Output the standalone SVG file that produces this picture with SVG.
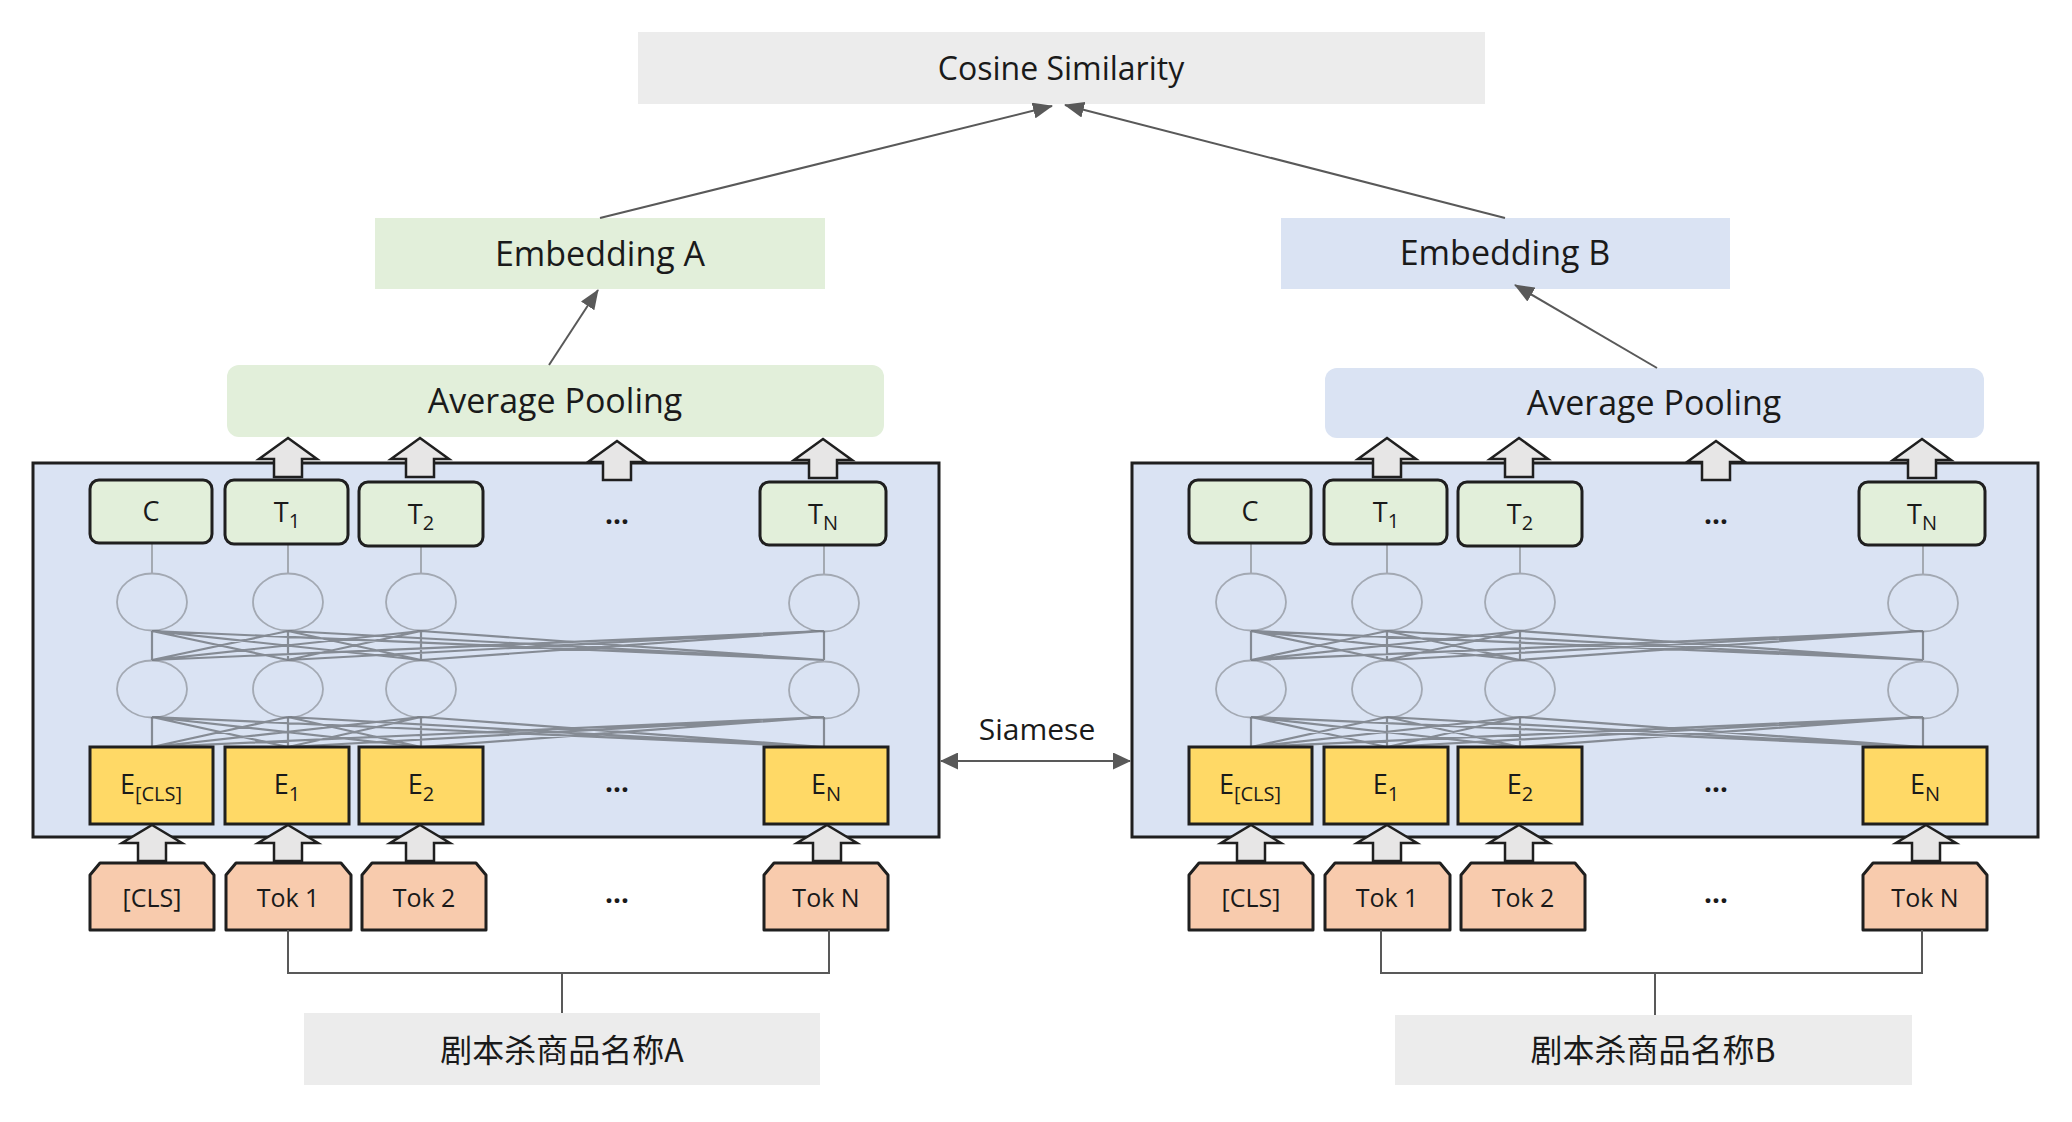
<svg xmlns="http://www.w3.org/2000/svg" xmlns:xlink="http://www.w3.org/1999/xlink" width="2072" height="1122" viewBox="0 0 2072 1122">
<style>
  text { font-family: "Open Sans", "Noto Sans CJK SC", sans-serif; fill: #1a1a1a; text-anchor: middle; }
  .cjk { font-family: "Noto Sans CJK SC", "Open Sans", sans-serif; }
  .gray { fill: #ececec; }
  .green { fill: #e2efda; }
  .blue { fill: #dae3f3; }
  .enc { fill: #dae3f3; stroke: #1f1f1f; stroke-width: 3; }
  .tbox { fill: #e2efda; stroke: #1f1f1f; stroke-width: 3; }
  .ebox { fill: #ffd966; stroke: #1f1f1f; stroke-width: 3; }
  .tok { fill: #f8cbad; stroke: #1f1f1f; stroke-width: 3; stroke-linejoin: round; }
  .blk { fill: #e7e6e6; stroke: #1f1f1f; stroke-width: 2.5; stroke-linejoin: miter; }
  .cell { fill: none; stroke: #a3a9b3; stroke-width: 1.8; }
  .vl { fill: none; stroke: #9ea3ab; stroke-width: 1.8; }
  .mesh { fill: none; stroke: #6f747c; stroke-width: 2.2; stroke-opacity: 0.8; }
  .conn { fill: none; stroke: #595959; stroke-width: 2; }
  .lbl { font-size: 27px; }
  .sub { font-size: 20px; }
  .tk { font-size: 25px; }
  .dots { font-size: 28px; font-weight: bold; }
</style>
<defs>
  <marker id="ah" markerUnits="userSpaceOnUse" markerWidth="20" markerHeight="16" refX="19" refY="8" orient="auto-start-reverse">
    <path d="M0,0 L20,8 L0,16 Z" fill="#595959"/>
  </marker>
  <marker id="ahs" markerUnits="userSpaceOnUse" markerWidth="18" markerHeight="17" refX="17" refY="8.5" orient="auto-start-reverse">
    <path d="M0,0 L18,8.5 L0,17 Z" fill="#595959"/>
  </marker>
  <path id="upTop" class="blk" d="M0,0 L29,21 L14,21 L14,39 L-14,39 L-14,21 L-29,21 Z"/>
  <path id="upBot" class="blk" d="M0,0 L30,18 L14,18 L14,36 L-14,36 L-14,18 L-30,18 Z"/>
</defs>

<g id="cosine">
  <rect class="gray" x="638" y="32" width="847" height="72"/>
  <text x="1061" y="80" font-size="32">Cosine Similarity</text>
</g>

<g id="embeddingA">
  <rect class="green" x="375" y="218" width="450" height="71"/>
  <text x="600" y="266" font-size="34">Embedding A</text>
</g>
<g id="embeddingB">
  <rect class="blue" x="1281" y="218" width="449" height="71"/>
  <text x="1505" y="265" font-size="34">Embedding B</text>
</g>

<g id="poolingA">
  <rect class="green" x="227" y="365" width="657" height="72" rx="12"/>
  <text x="555" y="413" font-size="34">Average Pooling</text>
</g>
<g id="poolingB">
  <rect class="blue" x="1325" y="368" width="659" height="70" rx="12"/>
  <text x="1654" y="415" font-size="34">Average Pooling</text>
</g>

<g id="encoderA">
  <rect class="enc" x="33" y="463" width="906" height="374"/>
  <path class="vl" d="M152,543V573 M288,544V573 M421,546V573 M824,545V574"/>
  <ellipse class="cell" cx="152" cy="602" rx="35" ry="28.5"/>
  <ellipse class="cell" cx="288" cy="602" rx="35" ry="28.5"/>
  <ellipse class="cell" cx="421" cy="602" rx="35" ry="28.5"/>
  <ellipse class="cell" cx="824" cy="603" rx="35" ry="28.5"/>
  <ellipse class="cell" cx="152" cy="689" rx="35" ry="28.5"/>
  <ellipse class="cell" cx="288" cy="689" rx="35" ry="28.5"/>
  <ellipse class="cell" cx="421" cy="689" rx="35" ry="28.5"/>
  <ellipse class="cell" cx="824" cy="690" rx="35" ry="28.5"/>
  <path class="mesh" d="M152,631L152,660 M152,631L288,660 M152,631L421,660 M152,631L824,660 M288,631L152,660 M288,631L288,660 M288,631L421,660 M288,631L824,660 M421,631L152,660 M421,631L288,660 M421,631L421,660 M421,631L824,660 M824,631L152,660 M824,631L288,660 M824,631L421,660 M824,631L824,660"/>
  <path class="mesh" d="M152,717L152,747 M152,717L288,747 M152,717L421,747 M152,717L824,747 M288,717L152,747 M288,717L288,747 M288,717L421,747 M288,717L824,747 M421,717L152,747 M421,717L288,747 M421,717L421,747 M421,717L824,747 M824,717L152,747 M824,717L288,747 M824,717L421,747 M824,717L824,747"/>
  <g id="A_C"><rect class="tbox" x="90" y="480" width="122" height="63" rx="9"/><text class="lbl" x="151" y="521">C</text></g>
  <g id="A_T1"><rect class="tbox" x="225" y="480" width="123" height="64" rx="9"/><text class="lbl" x="287" y="522">T<tspan class="sub" dy="6">1</tspan></text></g>
  <g id="A_T2"><rect class="tbox" x="359" y="482" width="124" height="64" rx="9"/><text class="lbl" x="421" y="524">T<tspan class="sub" dy="6">2</tspan></text></g>
  <text class="dots" x="617" y="524">…</text>
  <g id="A_TN"><rect class="tbox" x="760" y="482" width="126" height="63" rx="9"/><text class="lbl" x="823" y="524">T<tspan class="sub" dy="6">N</tspan></text></g>
  <g id="A_ECLS"><rect class="ebox" x="90" y="747" width="123" height="77"/><text class="lbl" x="151" y="794">E<tspan class="sub" dy="7">[CLS]</tspan></text></g>
  <g id="A_E1"><rect class="ebox" x="225" y="747" width="124" height="77"/><text class="lbl" x="287" y="794">E<tspan class="sub" dy="7">1</tspan></text></g>
  <g id="A_E2"><rect class="ebox" x="359" y="747" width="124" height="77"/><text class="lbl" x="421" y="794">E<tspan class="sub" dy="7">2</tspan></text></g>
  <text class="dots" x="617" y="792">…</text>
  <g id="A_EN"><rect class="ebox" x="764" y="747" width="124" height="77"/><text class="lbl" x="826" y="794">E<tspan class="sub" dy="7">N</tspan></text></g>
  <use xlink:href="#upTop" x="288" y="438"/>
  <use xlink:href="#upTop" x="420" y="438"/>
  <use xlink:href="#upTop" x="617" y="441"/>
  <use xlink:href="#upTop" x="823" y="439"/>
  <use xlink:href="#upBot" x="152" y="825"/>
  <use xlink:href="#upBot" x="288" y="825"/>
  <use xlink:href="#upBot" x="420" y="825"/>
  <use xlink:href="#upBot" x="827" y="825"/>
</g>

<g id="tokensA">
  <g id="A_TokCLS"><path class="tok" d="M90,875 L100,863 L204,863 L214,875 L214,930 L90,930 Z"/><text class="tk" x="152" y="907">[CLS]</text></g>
  <g id="A_Tok1"><path class="tok" d="M226,875 L236,863 L341,863 L351,875 L351,930 L226,930 Z"/><text class="tk" x="288" y="907">Tok 1</text></g>
  <g id="A_Tok2"><path class="tok" d="M362,875 L372,863 L476,863 L486,875 L486,930 L362,930 Z"/><text class="tk" x="424" y="907">Tok 2</text></g>
  <text class="dots" x="617" y="903">…</text>
  <g id="A_TokN"><path class="tok" d="M764,875 L774,863 L878,863 L888,875 L888,930 L764,930 Z"/><text class="tk" x="826" y="907">Tok N</text></g>
</g>

<g id="encoderB" transform="translate(1099,0)">
  <rect class="enc" x="33" y="463" width="906" height="374"/>
  <path class="vl" d="M152,543V573 M288,544V573 M421,546V573 M824,545V574"/>
  <ellipse class="cell" cx="152" cy="602" rx="35" ry="28.5"/>
  <ellipse class="cell" cx="288" cy="602" rx="35" ry="28.5"/>
  <ellipse class="cell" cx="421" cy="602" rx="35" ry="28.5"/>
  <ellipse class="cell" cx="824" cy="603" rx="35" ry="28.5"/>
  <ellipse class="cell" cx="152" cy="689" rx="35" ry="28.5"/>
  <ellipse class="cell" cx="288" cy="689" rx="35" ry="28.5"/>
  <ellipse class="cell" cx="421" cy="689" rx="35" ry="28.5"/>
  <ellipse class="cell" cx="824" cy="690" rx="35" ry="28.5"/>
  <path class="mesh" d="M152,631L152,660 M152,631L288,660 M152,631L421,660 M152,631L824,660 M288,631L152,660 M288,631L288,660 M288,631L421,660 M288,631L824,660 M421,631L152,660 M421,631L288,660 M421,631L421,660 M421,631L824,660 M824,631L152,660 M824,631L288,660 M824,631L421,660 M824,631L824,660"/>
  <path class="mesh" d="M152,717L152,747 M152,717L288,747 M152,717L421,747 M152,717L824,747 M288,717L152,747 M288,717L288,747 M288,717L421,747 M288,717L824,747 M421,717L152,747 M421,717L288,747 M421,717L421,747 M421,717L824,747 M824,717L152,747 M824,717L288,747 M824,717L421,747 M824,717L824,747"/>
  <g id="B_C"><rect class="tbox" x="90" y="480" width="122" height="63" rx="9"/><text class="lbl" x="151" y="521">C</text></g>
  <g id="B_T1"><rect class="tbox" x="225" y="480" width="123" height="64" rx="9"/><text class="lbl" x="287" y="522">T<tspan class="sub" dy="6">1</tspan></text></g>
  <g id="B_T2"><rect class="tbox" x="359" y="482" width="124" height="64" rx="9"/><text class="lbl" x="421" y="524">T<tspan class="sub" dy="6">2</tspan></text></g>
  <text class="dots" x="617" y="524">…</text>
  <g id="B_TN"><rect class="tbox" x="760" y="482" width="126" height="63" rx="9"/><text class="lbl" x="823" y="524">T<tspan class="sub" dy="6">N</tspan></text></g>
  <g id="B_ECLS"><rect class="ebox" x="90" y="747" width="123" height="77"/><text class="lbl" x="151" y="794">E<tspan class="sub" dy="7">[CLS]</tspan></text></g>
  <g id="B_E1"><rect class="ebox" x="225" y="747" width="124" height="77"/><text class="lbl" x="287" y="794">E<tspan class="sub" dy="7">1</tspan></text></g>
  <g id="B_E2"><rect class="ebox" x="359" y="747" width="124" height="77"/><text class="lbl" x="421" y="794">E<tspan class="sub" dy="7">2</tspan></text></g>
  <text class="dots" x="617" y="792">…</text>
  <g id="B_EN"><rect class="ebox" x="764" y="747" width="124" height="77"/><text class="lbl" x="826" y="794">E<tspan class="sub" dy="7">N</tspan></text></g>
  <use xlink:href="#upTop" x="288" y="438"/>
  <use xlink:href="#upTop" x="420" y="438"/>
  <use xlink:href="#upTop" x="617" y="441"/>
  <use xlink:href="#upTop" x="823" y="439"/>
  <use xlink:href="#upBot" x="152" y="825"/>
  <use xlink:href="#upBot" x="288" y="825"/>
  <use xlink:href="#upBot" x="420" y="825"/>
  <use xlink:href="#upBot" x="827" y="825"/>
</g>

<g id="tokensB" transform="translate(1099,0)">
  <g id="B_TokCLS"><path class="tok" d="M90,875 L100,863 L204,863 L214,875 L214,930 L90,930 Z"/><text class="tk" x="152" y="907">[CLS]</text></g>
  <g id="B_Tok1"><path class="tok" d="M226,875 L236,863 L341,863 L351,875 L351,930 L226,930 Z"/><text class="tk" x="288" y="907">Tok 1</text></g>
  <g id="B_Tok2"><path class="tok" d="M362,875 L372,863 L476,863 L486,875 L486,930 L362,930 Z"/><text class="tk" x="424" y="907">Tok 2</text></g>
  <text class="dots" x="617" y="903">…</text>
  <g id="B_TokN"><path class="tok" d="M764,875 L774,863 L878,863 L888,875 L888,930 L764,930 Z"/><text class="tk" x="826" y="907">Tok N</text></g>
</g>

<g id="nameA">
  <rect class="gray" x="304" y="1013" width="516" height="72"/>
  <text class="cjk" x="562" y="1062" font-size="32">剧本杀商品名称A</text>
</g>
<g id="nameB">
  <rect class="gray" x="1395" y="1015" width="517" height="70"/>
  <text class="cjk" x="1653" y="1062" font-size="32">剧本杀商品名称B</text>
</g>

<g id="connectors">
  <line class="conn" x1="600" y1="218" x2="1052" y2="106" marker-end="url(#ah)"/>
  <line class="conn" x1="1505" y1="218" x2="1065" y2="105" marker-end="url(#ah)"/>
  <line class="conn" x1="549" y1="365" x2="598" y2="290" marker-end="url(#ah)"/>
  <line class="conn" x1="1657" y1="368" x2="1515" y2="285" marker-end="url(#ah)"/>
  <line class="conn" x1="941" y1="761" x2="1130" y2="761" marker-start="url(#ahs)" marker-end="url(#ahs)"/>
  <text x="1037" y="740" font-size="30">Siamese</text>
  <path class="conn" d="M288,930 V973 H829 V930 M562,973 V1013"/>
  <path class="conn" d="M1381,930 V973 H1922 V930 M1655,973 V1015"/>
</g>
</svg>
